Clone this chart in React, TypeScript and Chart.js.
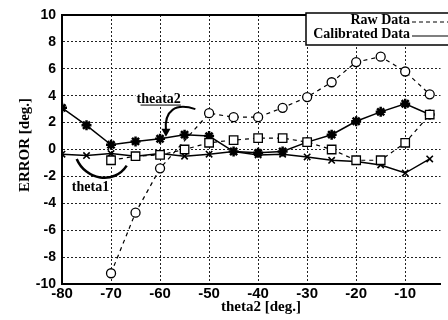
import React, { useEffect, useRef } from "react";
import { Chart, registerables } from "chart.js";

Chart.register(...registerables);

// Raw data (dashed)
const rawTheta2X = [-70, -65, -60, -50, -45, -40, -35, -30, -25, -20, -15, -10, -5];
const rawTheta2Y = [-9.2, -4.7, -1.4, 2.7, 2.4, 2.4, 3.1, 3.9, 5.0, 6.5, 6.9, 5.8, 4.1];
const rawTheta1X = [-70, -65, -60, -55, -50, -45, -40, -35, -30, -25, -20, -15, -10, -5];
const rawTheta1Y = [-0.8, -0.5, -0.4, 0.0, 0.5, 0.7, 0.85, 0.85, 0.55, 0.0, -0.8, -0.8, 0.5, 2.6];
// Calibrated data (solid)
const calTheta2X = [-80, -75, -70, -65, -60, -55, -50, -45, -40, -35, -30, -25, -20, -15, -10, -5];
const calTheta2Y = [3.1, 1.8, 0.35, 0.6, 0.8, 1.1, 1.0, -0.15, -0.25, -0.15, 0.55, 1.1, 2.1, 2.8, 3.4, 2.6];
const calTheta1X = [-80, -75, -70, -65, -60, -55, -50, -45, -40, -35, -30, -25, -20, -15, -10, -5];
const calTheta1Y = [-0.35, -0.45, -0.3, -0.5, -0.3, -0.5, -0.35, -0.15, -0.4, -0.35, -0.55, -0.8, -0.9, -1.15, -1.75, -0.7];

const xMin = -80;
const xMax = -2.8;
const yMin = -10;
const yMax = 10;
const xStep = 10;
const yStep = 2;

const xTitle = "theta2 [deg.]";
const yTitle = "ERROR [deg.]";
const legendLabels = ["Raw Data", "Calibrated Data"];
const noteTheta2 = "theata2";
const noteTheta1 = "theta1";

const pts = (xs: number[], ys: number[]) => xs.map((x, i) => ({ x, y: ys[i] }));

const serif = "'Liberation Serif', 'Times New Roman', serif";
const sans = "'Liberation Sans', Arial, sans-serif";

const decorPlugin = {
  id: "decor",
  afterDraw(chart: any) {
    const { ctx, chartArea: ca, scales } = chart;
    const xs = scales.x;
    const ys = scales.y;
    const px = (v: number) => xs.getPixelForValue(v);
    const py = (v: number) => ys.getPixelForValue(v);
    ctx.save();
    // top border
    ctx.strokeStyle = "#000";
    ctx.lineWidth = 2;
    ctx.setLineDash([]);
    ctx.beginPath();
    ctx.moveTo(ca.left, ca.top);
    ctx.lineTo(ca.right, ca.top);
    ctx.stroke();

    // axis titles
    ctx.fillStyle = "#000";
    ctx.font = `bold 15px ${serif}`;
    ctx.textAlign = "center";
    ctx.textBaseline = "middle";
    ctx.fillText(xTitle, 261, 307);
    ctx.save();
    ctx.translate(25, 145);
    ctx.rotate(-Math.PI / 2);
    ctx.fillText(yTitle, 0, 0);
    ctx.restore();

    // annotation theata2
    ctx.font = `bold 14px ${serif}`;
    ctx.textAlign = "left";
    ctx.textBaseline = "middle";
    const t2x = px(-64.8);
    const t2y = py(3.75);
    const w2 = ctx.measureText(noteTheta2).width;
    ctx.fillStyle = "#fff";
    ctx.fillRect(t2x - 1, t2y - 7, w2 + 2, 13);
    ctx.fillStyle = "#000";
    ctx.fillText(noteTheta2, t2x, t2y);
    ctx.lineWidth = 1;
    ctx.beginPath();
    ctx.moveTo(t2x + 4, t2y + 6);
    ctx.lineTo(t2x + w2, t2y + 6);
    ctx.stroke();
    // arrow theata2
    ctx.lineWidth = 2;
    ctx.beginPath();
    ctx.moveTo(px(-52.8), py(3.0));
    ctx.bezierCurveTo(px(-56.8), py(3.5), px(-59.2), py(2.9), px(-58.8), py(1.4));
    ctx.stroke();
    ctx.beginPath();
    ctx.moveTo(px(-58.8) - 4.5, py(1.4) - 2);
    ctx.lineTo(px(-58.8) + 4.5, py(1.4) - 2);
    ctx.lineTo(px(-58.8), py(1.4) + 6);
    ctx.closePath();
    ctx.fill();

    // annotation theta1
    ctx.fillText(noteTheta1, px(-78), py(-2.8));
    ctx.lineWidth = 2.5;
    ctx.beginPath();
    ctx.moveTo(px(-77), py(-0.7));
    ctx.bezierCurveTo(px(-75.2), py(-2.25), px(-69.4), py(-2.65), px(-66.8), py(-1.2));
    ctx.stroke();

    // legend
    const lx = 306, ly = 13, lw = 160, lh = 32;
    ctx.fillStyle = "#fff";
    ctx.fillRect(lx, ly, lw, lh);
    ctx.strokeStyle = "#000";
    ctx.lineWidth = 1.5;
    ctx.strokeRect(lx, ly, lw, lh);
    ctx.fillStyle = "#000";
    ctx.font = `bold 14px ${serif}`;
    ctx.textAlign = "right";
    ctx.fillText(legendLabels[0], 410, 20);
    ctx.fillText(legendLabels[1], 410, 34);
    ctx.lineWidth = 1;
    ctx.setLineDash([4, 3]);
    ctx.beginPath();
    ctx.moveTo(412, 22);
    ctx.lineTo(448, 22);
    ctx.stroke();
    ctx.setLineDash([]);
    ctx.lineWidth = 1.2;
    ctx.beginPath();
    ctx.moveTo(412, 36);
    ctx.lineTo(448, 36);
    ctx.stroke();
    ctx.restore();
  },
};

export default function App() {
  const ref = useRef<HTMLCanvasElement | null>(null);
  useEffect(() => {
    if (!ref.current) return;
    const chart = new Chart(ref.current, {
      type: "line",
      data: {
        datasets: [
          {
            label: "Raw theta2",
            data: pts(rawTheta2X, rawTheta2Y),
            borderColor: "#000",
            borderWidth: 1.2,
            borderDash: [4, 4],
            pointStyle: "circle",
            pointRadius: 4.5,
            pointBackgroundColor: "#fff",
            pointBorderColor: "#000",
            pointBorderWidth: 1.3,
            fill: false,
            tension: 0,
          },
          {
            label: "Raw theta1",
            data: pts(rawTheta1X, rawTheta1Y),
            borderColor: "#000",
            borderWidth: 1.2,
            borderDash: [4, 4],
            pointStyle: "rect",
            pointRadius: 6,
            pointBackgroundColor: "#fff",
            pointBorderColor: "#000",
            pointBorderWidth: 1.3,
            fill: false,
            tension: 0,
          },
          {
            label: "Calibrated theta2",
            data: pts(calTheta2X, calTheta2Y),
            borderColor: "#000",
            borderWidth: 1.5,
            pointStyle: "star",
            pointRadius: 5,
            pointBorderColor: "#000",
            pointBorderWidth: 2.5,
            fill: false,
            tension: 0,
          },
          {
            label: "Calibrated theta1",
            data: pts(calTheta1X, calTheta1Y),
            borderColor: "#000",
            borderWidth: 1.5,
            pointStyle: "crossRot",
            pointRadius: 4.5,
            pointBorderColor: "#000",
            pointBorderWidth: 1.6,
            fill: false,
            tension: 0,
          },
        ],
      },
      options: {
        animation: false,
        responsive: false,
        devicePixelRatio: 1,
        layout: { padding: { left: 0, right: 0, top: 15, bottom: 0 } },
        plugins: { legend: { display: false }, tooltip: { enabled: false } },
        scales: {
          x: {
            type: "linear",
            min: xMin,
            max: xMax,
            afterFit: (s: any) => {
              s.height = 36;
            },
            ticks: {
              stepSize: xStep,
              includeBounds: false,
              color: "#000",
              padding: 1,
              font: { family: sans, size: 15, weight: "bold" },
              maxRotation: 0,
            },
            grid: { color: "#222", lineWidth: 1, drawTicks: false },
            border: { display: true, color: "#000", width: 2, dash: [2, 2] },
          },
          y: {
            type: "linear",
            min: yMin,
            max: yMax,
            afterFit: (s: any) => {
              s.width = 62;
            },
            ticks: {
              stepSize: yStep,
              color: "#000",
              padding: 6,
              font: { family: sans, size: 14, weight: "bold" },
            },
            grid: { color: "#222", lineWidth: 1, drawTicks: false },
            border: { display: true, color: "#000", width: 2, dash: [2, 2] },
          },
        },
      },
      plugins: [decorPlugin],
    });
    return () => chart.destroy();
  }, []);
  return (
    <div style={{ position: "absolute", left: 0, top: 0, width: 448, height: 320, background: "#fff", overflow: "hidden" }}>
      <canvas ref={ref} width={448} height={320} style={{ display: "block" }} />
    </div>
  );
}
